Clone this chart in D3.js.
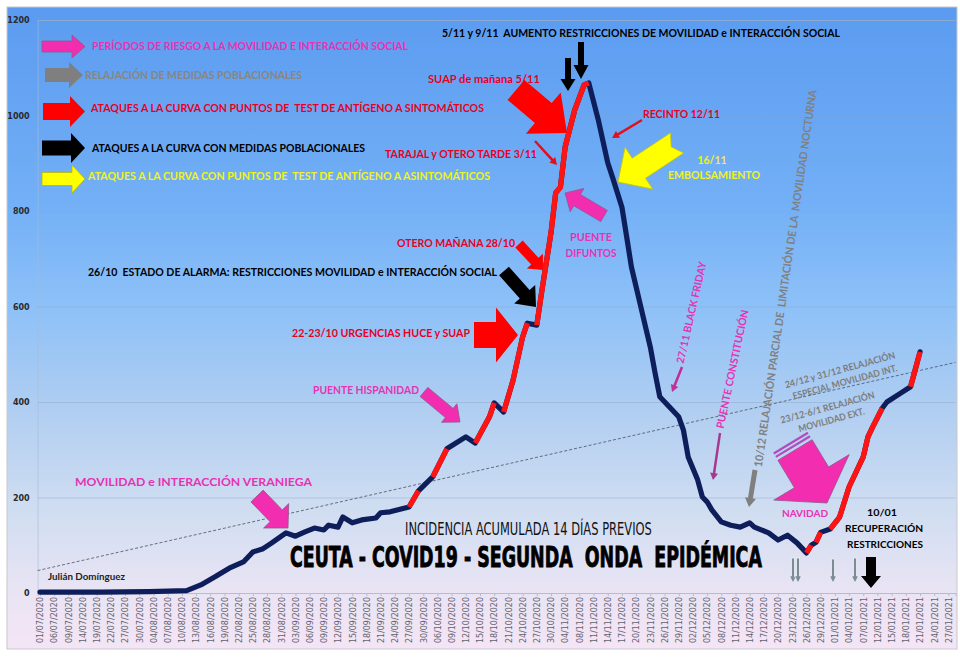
<!DOCTYPE html>
<html><head><meta charset="utf-8">
<script src="https://cdn.jsdelivr.net/npm/d3@7/dist/d3.min.js"></script>
<style>html,body{margin:0;padding:0;background:#fff;}svg{display:block;}text{white-space:pre;}</style>
</head><body>
<svg id="chart" width="960" height="658"></svg>
<script>
// ---------------- DATA ----------------
const xTickLabels = ["01/07/2020","06/07/2020","09/07/2020","14/07/2020","19/07/2020","22/07/2020","27/07/2020","30/07/2020","04/08/2020","07/08/2020","10/08/2020","13/08/2020","16/08/2020","19/08/2020","22/08/2020","25/08/2020","28/08/2020","31/08/2020","03/09/2020","06/09/2020","09/09/2020","12/09/2020","15/09/2020","18/09/2020","21/09/2020","24/09/2020","27/09/2020","30/09/2020","06/10/2020","09/10/2020","12/10/2020","15/10/2020","18/10/2020","21/10/2020","24/10/2020","27/10/2020","30/10/2020","04/11/2020","08/11/2020","11/11/2020","14/11/2020","17/11/2020","20/11/2020","23/11/2020","26/11/2020","29/11/2020","02/12/2020","05/12/2020","08/12/2020","11/12/2020","14/12/2020","17/12/2020","20/12/2020","23/12/2020","26/12/2020","29/12/2020","01/01/2021","04/01/2021","07/01/2021","12/01/2021","15/01/2021","18/01/2021","21/01/2021","24/01/2021","27/01/2021"];
const yTicks = [0, 200, 400, 600, 800, 1000, 1200];
const rowsPerLabel = 3;
// category row (one per record on the category axis) and 14-day cumulative incidence
const dayRow = [0,13,23,31,34,37,40,43,45,47,49,52,54,56,58,60,61,63,64,66,68,71,72,74,78,80,83,86,90,92,95,96,98,100,102,103,105,106,108,109,110,111,113,115,116,118,120,121,123,124,125,126,127,128,129,130,131,133,135,136,137,139,140,141,142,144,146,148,150,151,154,156,158,160,162,163,164,165,167,169,171,174,175,176,178,179,182,184,185,186];
const incidence = [2,2,3,5,17,34,52,65,86,92,105,126,119,128,136,132,142,138,159,147,153,157,168,170,180,214,243,302,327,314,369,398,379,446,536,565,561,628,754,838,850,934,1011,1064,1068,991,901,871,808,746,683,641,599,557,515,461,411,390,369,341,285,237,201,191,174,149,142,138,147,138,126,111,121,105,84,100,106,127,134,159,222,285,327,348,387,400,419,432,468,505];
// rows where the curve is drawn red (rises)
const risePhases = [[78,80],[83,86],[92,96],[98,103],[105,116],[162,163],[164,165],[167,178],[184,186]];
// linear trend values at the two ends of the axis
const trendStart = 47, trendEnd = 483;

// ---------------- STYLE ----------------
const MAG = "#e633b2", MAGF = "#f22db0", REDT = "#e8001e", YELT = "#f2f21a", GRAYT = "#868686";
const NAVY = "#0e1e5b", RED = "#ff1414";
const FONT = "Lato, 'Open Sans', sans-serif";

const svg = d3.select("#chart");
const defs = svg.append("defs");
const grad = defs.append("linearGradient").attr("id","bg").attr("x1",0).attr("y1",0).attr("x2",0).attr("y2",1);
[[0,"#5b9bf0"],[0.3,"#72aff6"],[0.46,"#8cc0f8"],[0.64,"#b3cff1"],[0.78,"#cfddf1"],[0.91,"#e9e4f4"],[1,"#f4e5f5"]]
  .forEach(([o,c])=>grad.append("stop").attr("offset",o).attr("stop-color",c));

svg.append("rect").attr("x",7).attr("y",7).attr("width",950).attr("height",642)
  .attr("fill","url(#bg)").attr("stroke","#c8c8cc").attr("stroke-width",1);

const plotL = 37.6, plotR = 955.5, plotT = 20, plotB = 593;
const nRows = xTickLabels.length * rowsPerLabel - 1;
const x = d3.scaleLinear().domain([-0.5, nRows - 0.5]).range([plotL, plotR]);
const y = d3.scaleLinear().domain([0, 1200]).range([plotB, plotT]);

// Y axis + gridlines
const gy = svg.append("g").attr("transform",`translate(${plotL},0)`)
  .call(d3.axisLeft(y).tickValues(yTicks).tickSize(-(plotR-plotL)).tickPadding(8).tickFormat(d3.format("d")));
gy.select(".domain").attr("stroke","#a9bcd4").attr("stroke-opacity",0.6);
gy.selectAll(".tick line").attr("stroke","#8ea6c4").attr("stroke-opacity",0.45);
gy.selectAll(".tick text").attr("font-family","'DejaVu Sans', sans-serif").attr("font-size",8)
  .attr("font-weight","bold").attr("fill","#2a2a2a");

// X axis
const tickRows = d3.range(0, nRows, rowsPerLabel);
const gx = svg.append("g").attr("transform",`translate(0,${plotB})`)
  .call(d3.axisBottom(x).tickValues(tickRows).tickSize(3).tickFormat(r => xTickLabels[r / rowsPerLabel]));
gx.select(".domain").attr("stroke","#b8bcc8");
gx.selectAll(".tick line").attr("stroke","#b8bcc8");
gx.selectAll(".tick text").attr("font-family","'DejaVu Sans', sans-serif").attr("font-size",8)
  .attr("fill","#62626e").attr("transform","rotate(-90)").attr("x",-4).attr("y",0)
  .attr("dy","0.35em").style("text-anchor","end");

// trend line
svg.append("line").attr("x1",x(-0.5)).attr("y1",y(trendStart)).attr("x2",x(nRows-0.5)).attr("y2",y(trendEnd))
  .attr("stroke","#4a4f5c").attr("stroke-width",0.8).attr("stroke-dasharray","3,2");

// curve
const pts = dayRow.map((r,i)=>({r, v: incidence[i]}));
const line = d3.line().x(d=>x(d.r)).y(d=>y(d.v));
svg.append("path").attr("d",line(pts)).attr("fill","none").attr("stroke",NAVY)
  .attr("stroke-width",5.2).attr("stroke-linejoin","round").attr("stroke-linecap","round");
risePhases.forEach(([a,b])=>{
  const seg = pts.filter(p=>p.r>=a && p.r<=b);
  svg.append("path").attr("d",line(seg)).attr("fill","none").attr("stroke",RED)
    .attr("stroke-width",5.2).attr("stroke-linejoin","round").attr("stroke-linecap","butt");
});

// ---------------- ANNOTATIONS ----------------
function arrowPath(a){
  const dx=a.x2-a.x1, dy=a.y2-a.y1, L=Math.hypot(dx,dy), ux=dx/L, uy=dy/L, px=-uy, py=ux;
  const bx=a.x2-ux*a.hl, by=a.y2-uy*a.hl, s=a.sw/2, h=a.hw/2;
  const p=[[a.x1+px*s,a.y1+py*s],[bx+px*s,by+py*s],[bx+px*h,by+py*h],[a.x2,a.y2],
           [bx-px*h,by-py*h],[bx-px*s,by-py*s],[a.x1-px*s,a.y1-py*s]];
  if(a.notch) p.push([a.x1+ux*a.notch,a.y1+uy*a.notch]);
  return "M"+p.map(q=>q[0].toFixed(1)+","+q[1].toFixed(1)).join("L")+"Z";
}
const arrows = [
  {x1:42,y1:46.5,x2:85,y2:46.5,sw:11,hw:23,hl:13,f:MAGF,st:"#8a5a8a"},
  {x1:45,y1:75,x2:83,y2:75,sw:14,hw:26,hl:14,f:"#7f7f7f"},
  {x1:43,y1:111.5,x2:85,y2:111.5,sw:17,hw:31,hl:15,f:"#ff0000"},
  {x1:42,y1:148,x2:85,y2:148,sw:15,hw:30,hl:14,f:"#000"},
  {x1:42,y1:179,x2:85,y2:179,sw:13,hw:28,hl:13,f:"#ffff00",st:"#b8b800"},
  {x1:568,y1:58,x2:568,y2:91,sw:6,hw:15,hl:12,f:"#000"},
  {x1:581,y1:42,x2:581,y2:79,sw:6,hw:15,hl:14,f:"#000"},
  {x1:516,y1:90,x2:567,y2:133,sw:26,hw:54,hl:31,f:"#ff0000"},
  {x1:677,y1:143,x2:618,y2:182,sw:24,hw:50,hl:25,f:"#ffff00",notch:7,st:"#c8c800"},
  {x1:604,y1:216,x2:565,y2:193,sw:13,hw:27,hl:14,f:MAGF,st:"#8a5a8a"},
  {x1:519,y1:244,x2:543,y2:270,sw:10,hw:22,hl:12,f:"#ff0000"},
  {x1:504,y1:271,x2:536,y2:307,sw:13,hw:28,hl:17,f:"#000"},
  {x1:474,y1:335,x2:518,y2:335,sw:26,hw:55,hl:22,f:"#ff0000"},
  {x1:424,y1:392,x2:460,y2:422,sw:12,hw:24,hl:14,f:MAGF,st:"#8a5a8a"},
  {x1:257,y1:496,x2:288,y2:528,sw:17,hw:35,hl:17,f:MAGF,st:"#8a5a8a"},
  {x1:795,y1:450,x2:827,y2:503,sw:40,hw:88,hl:30,f:MAGF,st:"#8a5a8a"},
  {x1:642,y1:120,x2:612,y2:138,sw:2.5,hw:8,hl:7,f:"#e01020"},
  {x1:535,y1:141,x2:557,y2:165,sw:2.5,hw:8,hl:7,f:"#e01020"},
  {x1:682,y1:367,x2:672,y2:392,sw:2.5,hw:8,hl:7,f:"#c0309a"},
  {x1:720,y1:433,x2:713,y2:480,sw:2.5,hw:8,hl:7,f:"#a8388f"},
  {x1:755,y1:470,x2:749,y2:507,sw:5,hw:11,hl:9,f:"#7f7f7f"},
  {x1:793,y1:558,x2:793,y2:583,sw:3,hw:7,hl:7,f:"#7d8b99",st:"#eef2f8"},
  {x1:798,y1:558,x2:798,y2:583,sw:3,hw:7,hl:7,f:"#7d8b99",st:"#eef2f8"},
  {x1:833,y1:559,x2:833,y2:583,sw:3,hw:7,hl:7,f:"#7d8b99",st:"#eef2f8"},
  {x1:855,y1:558,x2:855,y2:583,sw:3,hw:7,hl:7,f:"#7d8b99",st:"#eef2f8"},
  {x1:871,y1:557,x2:871,y2:588,sw:10,hw:20,hl:12,f:"#000"}
];
const ga = svg.append("g");
arrows.forEach(a=>{
  ga.append("path").attr("d",arrowPath(a)).attr("fill",a.f)
    .attr("stroke",a.st||"none").attr("stroke-width",a.st?0.8:0);
});
// stripes on the NAVIDAD arrow tail
(function(){
  const a = arrows[15], dx=a.x2-a.x1, dy=a.y2-a.y1, L=Math.hypot(dx,dy), ux=dx/L, uy=dy/L, px=-uy, py=ux;
  [4,8].forEach(o=>{
    const cx=a.x1-ux*o, cy=a.y1-uy*o;
    ga.append("line").attr("x1",cx+px*a.sw/2).attr("y1",cy+py*a.sw/2).attr("x2",cx-px*a.sw/2).attr("y2",cy-py*a.sw/2)
      .attr("stroke","#b04cc0").attr("stroke-width",2.2);
  });
})();

const texts = [
  {t:"PERÍODOS DE RIESGO A LA MOVILIDAD E INTERACCIÓN SOCIAL", x:92, y:50, w:316, c:MAG},
  {t:"RELAJACIÓN DE MEDIDAS POBLACIONALES", x:85, y:79, w:217, c:GRAYT},
  {t:"ATAQUES A LA CURVA CON PUNTOS DE  TEST DE ANTÍGENO A SINTOMÁTICOS", x:91, y:112, w:393, c:REDT},
  {t:"ATAQUES A LA CURVA CON MEDIDAS POBLACIONALES", x:92, y:152, w:273, c:"#000"},
  {t:"ATAQUES A LA CURVA CON PUNTOS DE  TEST DE ANTÍGENO A ASINTOMÁTICOS", x:88, y:180, w:402, c:YELT},
  {t:"5/11 y 9/11  AUMENTO RESTRICCIONES DE MOVILIDAD e INTERACCIÓN SOCIAL", x:442, y:37, w:398, c:"#000", s:12},
  {t:"SUAP de mañana 5/11", x:428, y:83, w:112, c:REDT},
  {t:"RECINTO 12/11", x:643, y:118, w:77, c:REDT},
  {t:"TARAJAL y OTERO TARDE 3/11", x:385, y:158, w:152, c:REDT},
  {t:"16/11", x:712, y:164, w:29, c:YELT, a:"middle"},
  {t:"EMBOLSAMIENTO", x:714, y:179, w:92, c:YELT, a:"middle"},
  {t:"PUENTE", x:591, y:241, w:42, c:MAG, a:"middle"},
  {t:"DIFUNTOS", x:591, y:257, w:51, c:MAG, a:"middle"},
  {t:"OTERO MAÑANA 28/10", x:397, y:247, w:118, c:REDT},
  {t:"26/10  ESTADO DE ALARMA: RESTRICCIONES MOVILIDAD e INTERACCIÓN SOCIAL", x:88, y:276, w:409, c:"#000"},
  {t:"22-23/10 URGENCIAS HUCE y SUAP", x:292, y:337, w:178, c:REDT},
  {t:"PUENTE HISPANIDAD", x:313, y:394, w:106, c:MAG},
  {t:"MOVILIDAD e INTERACCIÓN VERANIEGA", x:75, y:486, w:237, c:MAG},
  {t:"Julián Domínguez", x:48, y:580, w:77, c:"#222", s:8.5},
  {t:"NAVIDAD", x:805, y:517, w:46, c:MAG, a:"middle", s:10},
  {t:"10/01", x:882, y:516, w:30, c:"#000", a:"middle", s:9.5},
  {t:"RECUPERACIÓN", x:884, y:532, w:78, c:"#000", a:"middle", s:9.5},
  {t:"RESTRICCIONES", x:885, y:548, w:76, c:"#000", a:"middle", s:9.5}
];
const gt = svg.append("g").attr("font-family",FONT).attr("font-weight","bold");
texts.forEach(d=>{
  gt.append("text").attr("x",d.x).attr("y",d.y).attr("fill",d.c).attr("font-size",d.s||11)
    .attr("text-anchor",d.a||"start").attr("textLength",d.w).attr("lengthAdjust","spacingAndGlyphs")
    .text(d.t);
});
const rtexts = [
  {t:"27/11 BLACK FRIDAY", cx:691.5, cy:312.5, r:-77.2, w:104, c:MAG, s:10.5},
  {t:"PUENTE CONSTITUCIÓN", cx:732.5, cy:369, r:-78, w:121, c:MAG, s:10.5},
  {t:"10/12 RELAJACIÓN PARCIAL DE  LIMITACIÓN DE LA  MOVILIDAD NOCTURNA", cx:785.5, cy:278.5, r:-81.7, w:381, c:"#808080", s:11},
  {t:"24/12 y 31/12 RELAJACIÓN", cx:840, cy:370, r:-15.3, w:114, c:"#7c7c7c", s:9.5},
  {t:"ESPECIAL MOVILIDAD INT.", cx:845, cy:382, r:-15.3, w:108, c:"#7c7c7c", s:9.5},
  {t:"23/12-6/1 RELAJACIÓN", cx:827.5, cy:407.5, r:-15.3, w:97, c:"#7c7c7c", s:9.5},
  {t:"MOVILIDAD EXT.", cx:831.5, cy:420, r:-15.3, w:68, c:"#7c7c7c", s:9.5}
];
rtexts.forEach(d=>{
  gt.append("text").attr("x",d.cx).attr("y",d.cy).attr("dy","0.35em").attr("fill",d.c).attr("font-size",d.s)
    .attr("text-anchor","middle").attr("transform",`rotate(${d.r},${d.cx},${d.cy})`)
    .attr("textLength",d.w).attr("lengthAdjust","spacingAndGlyphs").text(d.t);
});

// titles (horizontally scaled to their measured width in the reference)
function fitText(str, x0, y0, width, size, weight, fill, stroke){
  const t = svg.append("text").attr("x",0).attr("y",0)
    .attr("font-family","'DejaVu Sans Condensed','DejaVu Sans',sans-serif")
    .attr("font-size",size).attr("font-weight",weight).attr("fill",fill).text(str);
  if(stroke) t.attr("stroke",fill).attr("stroke-width",stroke);
  const w = t.node().getComputedTextLength();
  t.attr("transform",`translate(${x0},${y0}) scale(${width/w},1)`);
}
fitText("INCIDENCIA ACUMULADA 14 DÍAS PREVIOS", 405, 535, 247, 18, "normal", "#111", 0);
fitText("CEUTA - COVID19 - SEGUNDA  ONDA  EPIDÉMICA", 290, 567, 472, 29, "bold", "#000", 0.9);
</script>
</body></html>
